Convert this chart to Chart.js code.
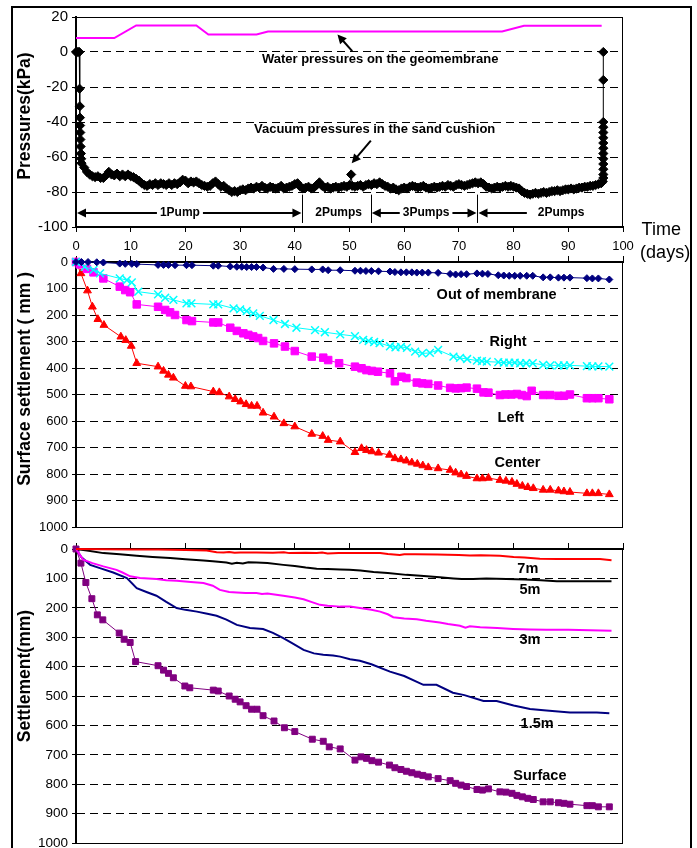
<!DOCTYPE html>
<html>
<head>
<meta charset="utf-8">
<script src="https://cdn.jsdelivr.net/npm/chart.js@4.4.0/dist/chart.umd.min.js"></script>
<style>
  body { margin: 0; background: #fff; overflow: hidden; }
  #frame { position: absolute; left: 11px; top: 6px; width: 677px; height: 900px; border: 2px solid #000; }
  canvas { position: absolute; left: 0; }
</style>
</head>
<body>
<div id="frame"></div>
<canvas id="pressureChart" width="697" height="264" style="top:0"></canvas>
<canvas id="surfaceChart" width="697" height="300" style="top:240px"></canvas>
<canvas id="depthChart" width="697" height="330" style="top:532px"></canvas>
<script>
// ---- data (x = days) ----

// water pressure on the geomembrane, kPa
const waterPressure = [[0, 8], [7, 8], [11, 15.2], [22, 15.2], [24.2, 10], [33, 10], [35.1, 11.7], [77.9, 11.7], [81.9, 15], [96.1, 15]];

// vacuum pressure in the sand cushion, kPa
const vacuumStart = [[0, 0], [0.2, 0], [0.4, 0], [0.6, 0], [0.65, -21], [0.7, -31], [0.72, -37.5], [0.75, -42], [0.78, -46], [0.8, -50], [0.85, -54], [0.9, -58], [0.95, -61], [1.0, -63.5]];
// one reading every half day, from day 1.5 to day 96
const vacuumHalfDaily = [
  -66, -68.5, -70, -71, -71.5, -71, -72, -72, -70.5, -68.5,
  -70, -70.5, -69.5, -71, -70, -71, -70, -71, -71.5, -72.5,
  -73.5, -75, -76, -76.5, -75.5, -76, -75, -76, -75, -75.5,
  -76, -75, -76, -75, -75.5, -74.5, -73, -73.5, -75, -74,
  -74.5, -74, -75, -76, -76.5, -77, -76.5, -75, -74, -75.5,
  -77, -76.5, -78, -79, -80, -79.5, -80, -79, -78.5, -79,
  -78, -77.5, -78, -77, -77.5, -76.5, -77.5, -78, -77, -77.5,
  -78, -77.5, -76.5, -78, -77.5, -77, -76.5, -75.5, -75, -77,
  -78, -77.5, -77, -78, -77.5, -76, -74.5, -76.5, -77.5, -77,
  -78, -77.5, -77, -77.5, -77, -76.5, -77, -76, -76.5, -77,
  -76.5, -76, -77, -76, -75.5, -76, -75, -75.5, -74.5, -75.5,
  -76.5, -77, -78, -77.5, -78.5, -79, -78, -77.5, -78, -77,
  -76.5, -77, -77.5, -77, -76.5, -77.5, -78, -77.5, -77, -77.5,
  -77, -76.5, -77, -76, -76.5, -77, -76, -75.5, -76, -76.5,
  -76, -75.5, -75, -74.5, -75, -74.5, -75.5, -77, -77.5, -78,
  -77.5, -77, -77.5, -77, -76.5, -77, -76.5, -77, -77.5, -78,
  -79.5, -80.5, -81, -81.5, -81, -80.5, -81, -80.5, -80, -80.5,
  -80, -79.5, -79.5, -79, -79.5, -79, -78.5, -78.5, -78, -78.5,
  -78, -77.5, -77.5, -77, -77, -76.5, -76.5, -76, -75.5, -75
];
const vacuumSpike = [[50.3, -70]];
const vacuumEnd = [[96.3, -74], [96.4, -72], [96.4, -70], [96.4, -67], [96.4, -64], [96.4, -61], [96.4, -58], [96.4, -55], [96.4, -52], [96.4, -49], [96.4, -46], [96.4, -43], [96.4, -40], [96.4, -16], [96.4, 0]];

// pumping stages shown under the vacuum curve
const pumpStages = [
  { label: "1Pump", from: 0, to: 41.4, at: 19, arrows: "both" },
  { label: "2Pumps", from: 41.4, to: 53.9, at: 48, arrows: "none" },
  { label: "3Pumps", from: 53.9, to: 73.4, at: 64, arrows: "both" },
  { label: "2Pumps", from: 73.4, to: 96, at: 88.7, arrows: "left" },
];

// surface settlement, mm
const outOfMembrane = [[0, 0], [1, 0], [2.2, 0], [3.8, 1], [5, 2], [8, 6], [9, 7], [10.2, 7], [11.1, 8], [15, 11], [16, 11], [16.9, 11], [18.1, 12], [20.2, 12], [21.2, 12], [25.1, 14], [26, 14], [28.2, 17], [29.4, 18], [30.3, 18], [31.2, 19], [32.1, 19], [33, 19], [34.2, 21], [36.1, 26], [38, 26], [40, 27], [43.1, 28], [45.1, 28], [46.1, 31], [48.3, 31], [51, 33], [52, 33], [53, 34], [54, 34], [55.3, 35], [57.4, 36], [58.3, 38], [59.4, 39], [60.4, 39], [61.4, 39], [62.3, 40], [63.3, 40], [64.4, 40], [66.2, 41], [68.4, 45], [69.4, 47], [70.4, 46], [71.4, 46], [73.3, 43], [74.3, 44], [75.3, 45], [77.2, 50], [78.2, 51], [79.2, 52], [80.2, 52], [81.2, 52], [82.4, 52], [83.5, 52], [85.4, 58], [86.7, 58], [88.2, 59], [89.2, 59], [90.3, 59], [93.4, 61], [94.4, 62], [95.5, 62], [97.5, 66]];
const rightSide = [[0, 0], [1.6, 18], [3.2, 30], [4.4, 43], [8, 62], [9.3, 68], [10.2, 77], [11.4, 112], [15, 122], [16.3, 135], [17.8, 143], [20.2, 156], [21.1, 156], [25.1, 160], [26, 160], [28.8, 175], [30, 179], [31.2, 185], [32.4, 194], [33.6, 203], [36.1, 219], [38.2, 234], [40.3, 248], [43.7, 257], [45.5, 265], [48.3, 273], [51, 280], [52.5, 294], [53.5, 298], [54.5, 302], [55.5, 306], [57.4, 318], [58.4, 322], [59.4, 320], [60.5, 324], [62, 338], [63.3, 345], [64.7, 343], [66.2, 332], [69, 357], [70.2, 362], [71.5, 366], [73.3, 372], [74.2, 374], [75.1, 376], [77.2, 378], [78.2, 380], [79.2, 380], [80.2, 380], [81.2, 382], [82.3, 382], [83.5, 382], [85.4, 388], [86.7, 390], [88.2, 390], [89.2, 390], [90.3, 390], [93.4, 393], [94.4, 394], [95.5, 394], [97.5, 395]];
const leftSide = [[0, 0], [0.7, 9], [2, 26], [3.2, 39], [5, 62], [8, 93], [9, 106], [9.9, 114], [11.1, 160], [15, 169], [16.3, 181], [17.2, 190], [18.1, 200], [20.2, 219], [21.2, 223], [25.1, 228], [26, 228], [28.2, 248], [29.4, 260], [30.6, 269], [31.5, 275], [32.4, 281], [33.3, 287], [34.2, 298], [36.2, 307], [38.2, 319], [40, 336], [43.1, 357], [45.2, 361], [46.1, 370], [48.1, 382], [51, 395], [52.2, 401], [53.1, 408], [54.1, 411], [55.2, 414], [57.4, 420], [58.3, 450], [59.5, 433], [60.4, 438], [62.3, 455], [63.3, 458], [64.4, 460], [66.2, 466], [68.4, 475], [69.4, 477], [70.4, 476], [71.4, 474], [73.3, 478], [74.5, 492], [75.4, 493], [77.5, 502], [78.5, 500], [79.6, 500], [80.6, 498], [81.5, 502], [82.4, 506], [83.3, 486], [85.4, 502], [86.7, 502], [88.2, 505], [89.2, 505], [90.3, 500], [93.4, 514], [94.4, 514], [95.5, 514], [97.5, 518]];
const centerLine = [[0, 0], [0.9, 43], [2.1, 108], [3, 169], [4, 216], [5.1, 238], [8.2, 282], [9.1, 295], [10.1, 317], [11.1, 382], [15, 395], [16, 411], [16.9, 426], [17.8, 437], [20, 468], [21, 470], [25.1, 489], [26.2, 492], [28, 508], [29.1, 518], [30.1, 527], [31.1, 537], [32.1, 543], [33.1, 543], [34.2, 569], [36.2, 584], [38, 609], [40, 621], [43.1, 649], [45.1, 657], [46.1, 672], [48.3, 678], [51, 718], [52.2, 703], [53.1, 710], [54.1, 715], [55.3, 720], [57.3, 728], [58.3, 741], [59.4, 745], [60.4, 750], [61.4, 757], [62.4, 762], [63.4, 768], [64.4, 775], [66.2, 779], [68.4, 785], [69.4, 795], [70.4, 802], [71.4, 808], [73.3, 817], [74.3, 817], [75.4, 815], [77.5, 823], [78.6, 826], [79.7, 830], [80.6, 838], [81.6, 845], [82.6, 850], [83.6, 854], [85.4, 860], [86.7, 860], [88.2, 863], [89.2, 866], [90.3, 868], [93.4, 873], [94.4, 873], [95.5, 873], [97.5, 877]];

// settlement at depth, mm
const surface = [[0, 0], [0.9, 48], [1.8, 114], [2.9, 169], [3.9, 224], [4.9, 241], [7.9, 286], [8.8, 307], [9.9, 318], [10.9, 383], [15, 397], [16, 412], [16.9, 423], [17.8, 438], [19.9, 466], [20.8, 472], [25.1, 480], [26, 483], [28, 500], [29.1, 511], [30, 520], [31.1, 533], [32.1, 545], [33.1, 545], [34.2, 567], [36.2, 585], [38.1, 608], [40, 621], [43.2, 647], [45.2, 654], [46.3, 673], [48.3, 680], [51, 718], [52.1, 707], [53.1, 712], [54.1, 720], [55.3, 725], [57.3, 735], [58.3, 744], [59.4, 750], [60.4, 756], [61.4, 761], [62.4, 766], [63.4, 770], [64.4, 775], [66.2, 781], [68.4, 788], [69.4, 797], [70.4, 803], [71.4, 808], [73.3, 818], [74.3, 820], [75.4, 816], [77.5, 826], [78.6, 827], [79.7, 831], [80.6, 838], [81.6, 843], [82.6, 848], [83.6, 852], [85.4, 860], [86.7, 860], [88.2, 863], [89.2, 865], [90.3, 868], [93.4, 873], [94.4, 873], [95.5, 877], [97.5, 877]];
const depth1_5m = [[0, 0], [1, 28], [2.6, 54], [4.5, 66], [6.8, 80], [9.3, 99], [11.1, 133], [13, 147], [14.7, 159], [16.5, 180], [18.4, 201], [20, 207], [22.1, 213], [24, 220], [25.7, 227], [27.5, 240], [29.4, 258], [31.8, 269], [34.2, 272], [36, 285], [37.9, 303], [39.5, 320], [41.6, 343], [43.5, 355], [45.2, 360], [47, 362], [48.3, 366], [50.1, 375], [51.9, 380], [54, 392], [57.4, 417], [60, 432], [63.5, 462], [65.9, 462], [68.9, 489], [71, 497], [74.5, 517], [76.9, 517], [80, 532], [83, 544], [86, 549], [90.3, 556], [93, 556], [95.2, 556], [97.5, 559]];
const depth3m = [[0, 0], [1.3, 36], [3, 48], [5, 59], [7.4, 71], [8.5, 80], [9.9, 93], [11.7, 99], [14.7, 102], [16.5, 106], [18.4, 108], [21, 112], [23.3, 116], [25, 125], [26.3, 139], [28, 146], [29.4, 148], [31, 150], [33, 150], [34, 153], [35, 151], [37.9, 159], [40, 165], [41.6, 171], [43, 180], [44.6, 190], [46, 193], [48.3, 196], [50.1, 196], [51.9, 201], [54, 207], [55.6, 213], [57, 222], [58, 232], [60, 236], [62.3, 239], [64, 244], [66.5, 250], [68, 255], [70.2, 261], [71.2, 268], [72, 263], [73.9, 266], [77, 269], [79.9, 272], [83, 274], [86, 275], [90, 275], [94, 276], [97.9, 278]];
const depth5m = [[0, 0], [2, 5], [5, 14], [8, 18], [11.1, 23], [14, 27], [17.2, 31], [20, 35], [23.3, 39], [25, 42], [27.5, 46], [28.5, 50], [29.4, 47], [30.5, 49], [31.5, 45], [33, 46], [35, 48], [37.9, 54], [40, 58], [42, 63], [44, 67], [46, 68], [48.3, 70], [50, 71], [52, 73], [54.4, 78], [57, 82], [60.4, 88], [63, 91], [66.5, 96], [69, 100], [70.5, 102], [72.6, 102], [75, 100], [78.7, 102], [82, 104], [85, 106], [87.9, 110], [92, 110], [95, 110], [97.9, 110]];
const depth7m = [[0, 0], [5, 1], [10, 2], [15, 2], [20, 3], [23.9, 5], [25.7, 11], [27, 12], [28, 10], [29, 13], [30, 12], [33, 12], [36, 13], [38, 11], [39, 14], [42, 13], [44, 14], [45, 12], [46, 15], [48, 14], [50, 14], [52, 14], [55.6, 14], [57, 17], [59.2, 20], [60, 18], [62, 18], [66, 19], [70, 20], [72, 22], [74, 21], [77.5, 23], [80, 27], [82, 29], [84.8, 33], [88, 34], [92, 34], [95.8, 34], [97.9, 38]];

const FONT = "'Liberation Sans', Arial, sans-serif";
Chart.defaults.font.family = FONT;
Chart.defaults.color = "#000";

function toPoints(pairs) {
  return pairs.map((p) => ({ x: p[0], y: p[1] }));
}

const vacuumMiddle = vacuumHalfDaily.map((v, i) => [1.5 + i * 0.5, v]);
const vacuumPressure = vacuumStart
  .concat(vacuumMiddle, vacuumSpike, vacuumEnd)
  .sort((a, b) => a[0] - b[0]);

// draws titles, labels, arrows and the pump stages on top of the grid
const notesPlugin = {
  id: "notes",
  beforeDatasetsDraw(chart, args, opts) {
    const ctx = chart.ctx;
    const xs = chart.scales.x;
    const ys = chart.scales.y;
    const area = chart.chartArea;
    const px = (v) => xs.getPixelForValue(v);
    const py = (v) => ys.getPixelForValue(v);

    ctx.save();
    // thin frame round the plot area
    ctx.strokeStyle = "#000";
    ctx.lineWidth = 1;
    ctx.strokeRect(Math.round(area.left) + 0.5, Math.round(area.top) + 0.5, Math.round(area.width) - 1, Math.round(area.height));

    ctx.textAlign = "center";
    ctx.textBaseline = "middle";
    ctx.fillStyle = "#000";

    if (opts.yTitle) {
      ctx.save();
      ctx.translate(25, py(opts.yTitle.y));
      ctx.rotate(-Math.PI / 2);
      ctx.font = "bold 17.5px " + FONT;
      ctx.fillText(opts.yTitle.text, 0, 0);
      ctx.restore();
    }

    (opts.texts || []).forEach((t) => {
      ctx.font = (t.bold === false ? "" : "bold ") + t.size + "px " + FONT;
      const x = px(t.x), y = py(t.y);
      if (t.box) {
        const w = ctx.measureText(t.text).width + 14;
        ctx.fillStyle = "#fff";
        ctx.fillRect(x - w / 2, y - t.size / 2 - 2, w, t.size + 4);
        ctx.fillStyle = "#000";
      }
      ctx.fillText(t.text, x, y);
    });

    const head = (x, y, ang) => {
      ctx.beginPath();
      ctx.moveTo(x, y);
      ctx.lineTo(x - 9 * Math.cos(ang) + 4.5 * Math.sin(ang), y - 9 * Math.sin(ang) - 4.5 * Math.cos(ang));
      ctx.lineTo(x - 9 * Math.cos(ang) - 4.5 * Math.sin(ang), y - 9 * Math.sin(ang) + 4.5 * Math.cos(ang));
      ctx.closePath();
      ctx.fill();
    };

    ctx.lineWidth = 2;
    (opts.arrows || []).forEach((a) => {
      const x1 = px(a.from[0]), y1 = py(a.from[1]);
      const x2 = px(a.to[0]), y2 = py(a.to[1]);
      const ang = Math.atan2(y2 - y1, x2 - x1);
      ctx.beginPath();
      ctx.moveTo(x1, y1);
      ctx.lineTo(x2 - 6 * Math.cos(ang), y2 - 6 * Math.sin(ang));
      ctx.stroke();
      head(x2, y2, ang);
    });

    if (opts.pumps) {
      const row = py(-92);
      ctx.font = "bold 12px " + FONT;
      opts.pumps.forEach((s) => {
        const a = px(s.from), b = px(s.to), c = px(s.at);
        const half = ctx.measureText(s.label).width / 2;
        ctx.fillText(s.label, c, row);
        if (s.from > 0) {
          ctx.lineWidth = 1;
          ctx.beginPath();
          ctx.moveTo(Math.round(a) + 0.5, py(-81.5));
          ctx.lineTo(Math.round(a) + 0.5, py(-97.7));
          ctx.stroke();
        }
        ctx.lineWidth = 2;
        if (s.arrows === "both" || s.arrows === "left") {
          ctx.beginPath();
          ctx.moveTo(a + 6, row);
          ctx.lineTo(c - half - (s.arrows === "left" ? 11 : 3), row);
          ctx.stroke();
          head(a + 1, row, Math.PI);
        }
        if (s.arrows === "both") {
          ctx.beginPath();
          ctx.moveTo(c + half + 3, row);
          ctx.lineTo(b - 6, row);
          ctx.stroke();
          head(b - 1, row, 0);
        }
      });
    }
    ctx.restore();
  },
};

function yScale(min, max, step, size, width) {
  return {
    type: "linear",
    min: min,
    max: max,
    reverse: min === 0,
    afterFit: (scale) => { scale.width = width; },
    ticks: { stepSize: step, font: { size: size }, padding: 4, callback: (v) => String(v) },
    grid: {
      color: (c) => (c.tick && (c.tick.value === min || c.tick.value === max) ? "rgba(0,0,0,0)" : "#000"),
      tickColor: "#000",
      tickLength: 4,
      lineWidth: 1,
    },
    border: { color: "#000", width: 2, dash: [8, 5] },
  };
}

function xScale(position, height, showLabels) {
  return {
    type: "linear",
    position: position,
    min: 0,
    max: 100,
    afterFit: (scale) => { scale.height = height; },
    ticks: { stepSize: 10, display: showLabels, font: { size: 13 }, padding: 7, maxRotation: 0, autoSkip: false },
    grid: { drawOnChartArea: false, drawTicks: true, tickLength: position === "top" ? 6 : 5, tickColor: "#000" },
    border: { color: "#000", width: 2 },
  };
}

function series(label, pairs, color, style) {
  return Object.assign({
    label: label,
    data: toPoints(pairs),
    borderColor: color,
    backgroundColor: color,
    pointBackgroundColor: color,
    pointBorderColor: color,
    borderWidth: 1,
    tension: 0,
    clip: false,
  }, style);
}

// Pressures against time
new Chart(document.getElementById("pressureChart"), {
  type: "line",
  data: {
    datasets: [
      series("Water pressures on the geomembrane", waterPressure, "#FF00FF", { borderWidth: 2, pointRadius: 0 }),
      series("Vacuum pressures in the sand cushion", vacuumPressure, "#000", { pointStyle: "rectRot", pointRadius: 4.6, pointBorderWidth: 1 }),
    ],
  },
  options: {
    responsive: false,
    animation: false,
    events: [],
    layout: { padding: { left: 0, right: 74, top: 17, bottom: 0 } },
    scales: {
      x: xScale("bottom", 37, true),
      y: yScale(-100, 20, 20, 15, 76),
    },
    plugins: {
      legend: { display: false },
      tooltip: { enabled: false },
      notes: {
        yTitle: { text: "Pressures(kPa)", y: -36.6 },
        texts: [
          { text: "Water pressures on the geomembrane", x: 55.6, y: -4.2, size: 13 },
          { text: "Vacuum pressures in the sand cushion", x: 54.6, y: -44.2, size: 13 },
          { text: "Time", x: 107, y: -101.9, size: 18, bold: false },
          { text: "(days)", x: 107.7, y: -115, size: 18, bold: false },
        ],
        arrows: [
          { from: [50.5, 0.5], to: [47.8, 10] },
          { from: [53.9, -50.7], to: [50.4, -63.6] },
        ],
        pumps: pumpStages,
      },
    },
  },
  plugins: [notesPlugin],
});

// Surface settlement
new Chart(document.getElementById("surfaceChart"), {
  type: "line",
  data: {
    datasets: [
      series("Out of membrane", outOfMembrane, "#000080", { pointStyle: "rectRot", pointRadius: 3.5 }),
      series("Right", rightSide, "#00FFFF", { pointStyle: "crossRot", pointRadius: 5.5, pointBorderWidth: 1.5 }),
      series("Left", leftSide, "#FF00FF", { pointStyle: "rect", pointRadius: 5.3 }),
      series("Center", centerLine, "#FF0000", { pointStyle: "triangle", pointRadius: 4.5 }),
    ],
  },
  options: {
    responsive: false,
    animation: false,
    events: [],
    layout: { padding: { left: 0, right: 74, top: 0, bottom: 13 } },
    scales: {
      x: xScale("top", 22, false),
      y: yScale(0, 1000, 100, 13, 76),
    },
    plugins: {
      legend: { display: false },
      tooltip: { enabled: false },
      notes: {
        yTitle: { text: "Surface settlement ( mm )", y: 441 },
        texts: [
          { text: "Out of membrane", x: 76.9, y: 124.5, size: 14.5, box: true },
          { text: "Right", x: 79, y: 300.8, size: 14.5, box: true },
          { text: "Left", x: 79.5, y: 589, size: 14.5, box: true },
          { text: "Center", x: 80.7, y: 757, size: 14.5, box: true },
        ],
      },
    },
  },
  plugins: [notesPlugin],
});

// Settlement at depth
new Chart(document.getElementById("depthChart"), {
  type: "line",
  data: {
    datasets: [
      series("7m", depth7m, "#FF0000", { borderWidth: 2, pointRadius: 0 }),
      series("5m", depth5m, "#000", { borderWidth: 2, pointRadius: 0 }),
      series("3m", depth3m, "#FF00FF", { borderWidth: 2, pointRadius: 0 }),
      series("1.5m", depth1_5m, "#000080", { borderWidth: 2, pointRadius: 0 }),
      series("Surface", surface, "#800080", { pointStyle: "rect", pointRadius: 4.2 }),
    ],
  },
  options: {
    responsive: false,
    animation: false,
    events: [],
    layout: { padding: { left: 0, right: 74, top: 0, bottom: 19 } },
    scales: {
      x: xScale("top", 17, false),
      y: yScale(0, 1000, 100, 13.5, 76),
    },
    plugins: {
      legend: { display: false },
      tooltip: { enabled: false },
      notes: {
        yTitle: { text: "Settlement(mm)", y: 432 },
        texts: [
          { text: "7m", x: 82.6, y: 67, size: 14.5 },
          { text: "5m", x: 83, y: 141, size: 14.5 },
          { text: "3m", x: 83, y: 309, size: 14.5 },
          { text: "1.5m", x: 84.3, y: 595, size: 14.5 },
          { text: "Surface", x: 84.8, y: 772, size: 14.5 },
        ],
      },
    },
  },
  plugins: [notesPlugin],
});
</script>
</body>
</html>
